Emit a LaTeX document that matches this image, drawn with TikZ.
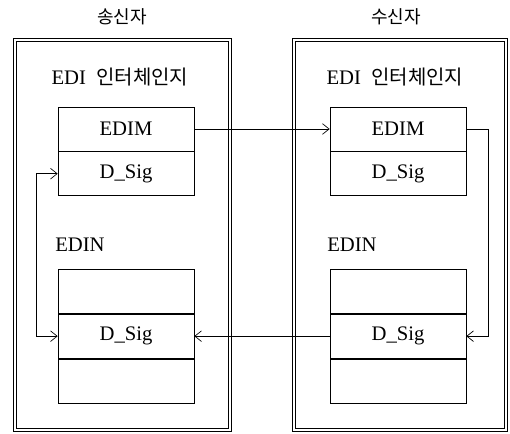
\documentclass[tikz,border=0pt]{standalone}
\usepackage{fontspec}
\setmainfont{Liberation Serif}
\newfontfamily\kr{Noto Sans CJK KR}
\usetikzlibrary{arrows.meta}
\usetikzlibrary{positioning}

\tikzset{
  party/.style={draw, double, double distance=2.2pt, line width=0.5pt},
  cell/.style={draw, line width=0.5pt, minimum width=102pt, minimum height=33pt,
    inner sep=0pt, font=\fontsize{15.5}{18}\selectfont},
  lbl/.style={inner sep=0pt, font=\fontsize{15.5}{18}\selectfont},
  ttl/.style={inner sep=0pt, font=\kr\fontsize{13.5}{15}\selectfont},
  flow/.style={line width=0.5pt, -{Straight Barb[length=5pt,width=8pt]}},
}

\begin{document}
\begin{tikzpicture}[x=0.75pt, y=-0.75pt]
			\useasboundingbox (0,0) rectangle (510,433);
			% parties
			\draw [party] (15,40) rectangle (230,430);
			\draw [party] (294,40) rectangle (506,430);
			\node [ttl] (sender) at (122, 17) {송신자};
			\node [ttl] (receiver) at (396, 17) {수신자};
			\node [lbl] (lix) at (120, 77) {EDI\ \ {\kr\fontsize{15}{17}\selectfont 인터체인지}};
			\node [lbl] (rix) at (395, 77) {EDI\ \ {\kr\fontsize{15}{17}\selectfont 인터체인지}};
			% EDIM
			\node [cell] (ledim) at (126, 129) {EDIM};
			\node [cell, below=0pt of ledim] (lmsig) {D\_Sig};
			\node [cell] (redim) at (398, 129) {EDIM};
			\node [cell, below=0pt of redim] (rmsig) {D\_Sig};
			% EDIN
			\node [lbl, anchor=west] (lin) at (55, 245) {EDIN};
			\node [lbl, anchor=west] (rin) at (327, 245) {EDIN};
			\node [cell] (lntop) at (126, 291.5) {};
			\node [cell, below=0pt of lntop] (lnsig) {D\_Sig};
			\node [cell, below=0pt of lnsig] (lnbot) {};
			\node [cell] (rntop) at (398, 291.5) {};
			\node [cell, below=0pt of rntop] (rnsig) {D\_Sig};
			\node [cell, below=0pt of rnsig] (rnbot) {};
			% flows
			\draw [flow] (ledim.east) -- (redim.west);
			\draw [flow] (redim.east) -- ++(22,0) |- (rnsig.east);
			\draw [flow] (rnsig.west) -- (lnsig.east);
			\draw [flow, {Straight Barb[length=5pt,width=8pt]}-{Straight Barb[length=5pt,width=8pt]}] (lnsig.west) -- ++(-21,0) |- (lmsig.west);
	\end{tikzpicture}
\end{document}
